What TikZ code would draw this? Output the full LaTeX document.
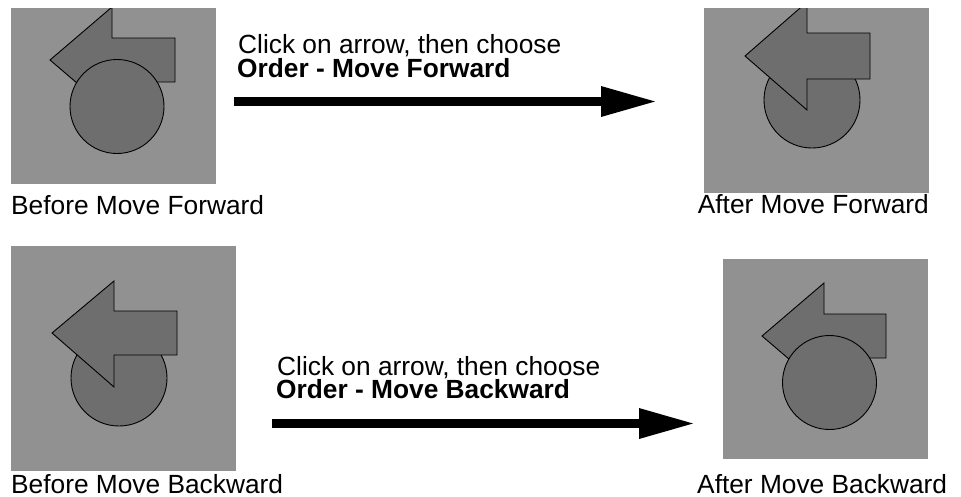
\documentclass[tikz,border=0pt]{standalone}
\usepackage{fontspec}
\setmainfont{Liberation Sans}
\usetikzlibrary{arrows.meta}
\definecolor{panelbg}{RGB}{145,145,145}
\definecolor{shapefill}{RGB}{110,110,110}
\tikzset{
  panel/.style={fill=panelbg, draw=none, inner sep=0pt, anchor=north west},
  shp/.style={fill=shapefill, draw=black, line width=0.9pt, line join=miter},
  caption/.style={inner sep=0pt, anchor=base west, font=\fontsize{26.3}{23.5}\selectfont},
  bigarrow/.style={line width=9pt, -{Triangle[length=54pt,width=31pt,line width=0pt]}}
}
\begin{document}
\begin{tikzpicture}[x=1pt,y=-1pt]
\useasboundingbox (0,0) rectangle (961,496);

% ---------- Panel 1: before move forward (arrow behind circle)
\node[panel, minimum width=205pt, minimum height=176pt] (p1) at (11,8) {};
\begin{scope}
  \clip (p1.north west) rectangle (p1.south east);
  \draw[shp] (50,60) -- (112,7) -- (112,38) -- (175,38) -- (175,82) -- (112,82) -- (112,113) -- cycle;
  \draw[shp] (117,106.5) circle[radius=47];
\end{scope}
\node[caption] (l1) at (11,214) {Before Move Forward};

% ---------- Panel 2: after move forward (arrow in front)
\node[panel, minimum width=225pt, minimum height=185pt] (p2) at (704,8) {};
\begin{scope}
  \clip (p2.north west) rectangle (p2.south east);
  \draw[shp] (812,100) circle[radius=48];
  \draw[shp] (745,56) -- (807,2) -- (807,33) -- (870,33) -- (870,79) -- (807,79) -- (807,110) -- cycle;
\end{scope}
\node[caption, anchor=base east] (l2) at (929,213) {After Move Forward};

% ---------- Panel 3: before move backward (arrow in front)
\node[panel, minimum width=225pt, minimum height=225pt] (p3) at (11,246) {};
\begin{scope}
  \clip (p3.north west) rectangle (p3.south east);
  \draw[shp] (119,378) circle[radius=48];
  \draw[shp] (52,333) -- (114,281) -- (114,311) -- (177,311) -- (177,355) -- (114,355) -- (114,387) -- cycle;
\end{scope}
\node[caption] (l3) at (11,493) {Before Move Backward};

% ---------- Panel 4: after move backward (arrow behind circle)
\node[panel, minimum width=205pt, minimum height=200pt] (p4) at (723,259) {};
\begin{scope}
  \clip (p4.north west) rectangle (p4.south east);
  \draw[shp] (762,336) -- (824,283) -- (824,314) -- (886,314) -- (886,358) -- (824,358) -- (824,389) -- cycle;
  \draw[shp] (829.5,382.5) circle[radius=47];
\end{scope}
\node[caption] (l4) at (697,493) {After Move Backward};

% ---------- Instructions and big arrows
\node[caption] (t1a) at (238,53.5) {Click on arrow, then choose};
\node[caption] (t1b) at (237,77) {\bfseries Order - Move Forward};
\coordinate (a1s) at (234,101.5);
\coordinate (a1e) at (655,101.5);
\draw[bigarrow] (a1s) -- (a1e);

\node[caption] (t2a) at (277,375) {Click on arrow, then choose};
\node[caption] (t2b) at (276,398.5) {\bfseries Order - Move Backward};
\coordinate (a2s) at (272,423.5);
\coordinate (a2e) at (693,423.5);
\draw[bigarrow] (a2s) -- (a2e);
\end{tikzpicture}
\end{document}
